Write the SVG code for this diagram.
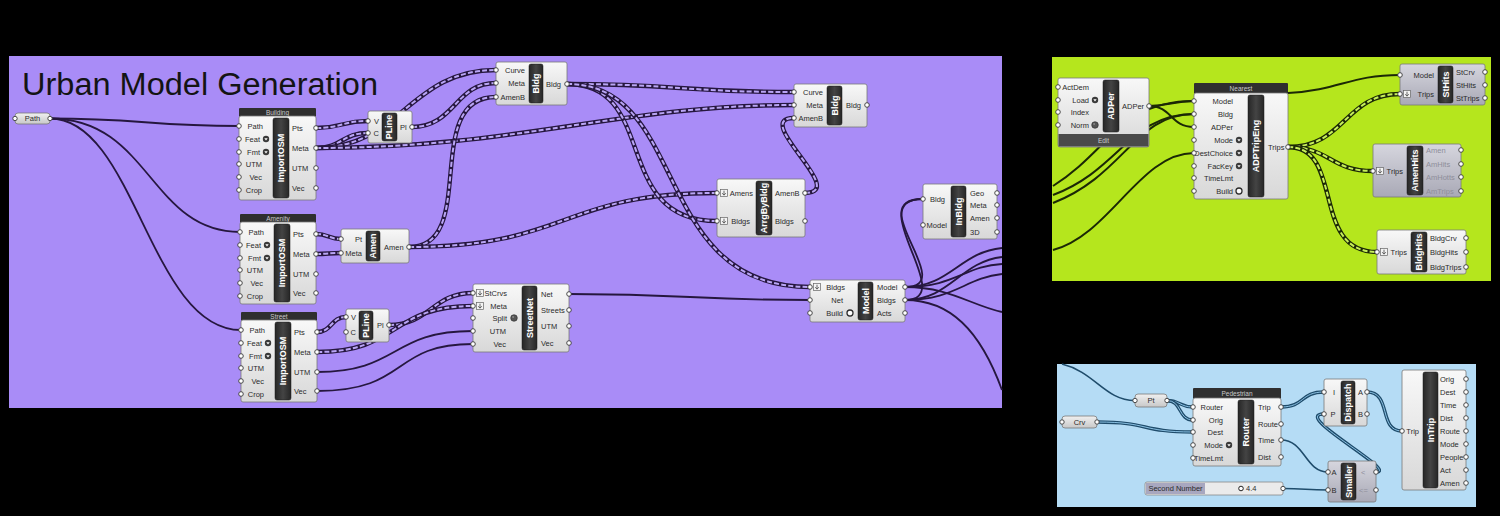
<svg xmlns="http://www.w3.org/2000/svg" width="1500" height="516" viewBox="0 0 1500 516">
<defs>
<style>
.l{font-family:'Liberation Sans',Arial,sans-serif;font-size:7.5px;fill:#2b2b2b}
.le{text-anchor:end}
.lm{text-anchor:middle}
.lf{fill:#8e8e9a}
.s{font-family:'Liberation Sans',Arial,sans-serif;font-size:9px;font-weight:bold;fill:#fff;text-anchor:middle}
.h{font-family:'Liberation Sans',Arial,sans-serif;font-size:6.5px;fill:#c9c9c9;text-anchor:middle}
.b{fill:url(#gB);stroke:#7a7a7a;stroke-width:0.8}
.bg{fill:url(#gG);stroke:#7a7a7a;stroke-width:0.8}
.pill{fill:url(#gP);stroke:#7a7a7a;stroke-width:0.8}
.k{fill:url(#gK);stroke:#1a1a1a;stroke-width:0.5}
.hd{fill:#2f2f2f}
.p{fill:#fff;stroke:#3a3a3a;stroke-width:0.9}
.w{fill:none;stroke:#26173f;stroke-width:1.8}
.do{fill:none;stroke:#26173f;stroke-width:4.4}
.di{fill:none;stroke:#b9a5f5;stroke-width:2;stroke-dasharray:5 2.2}
.gw{fill:none;stroke:#1b2806;stroke-width:2}
.gdo{fill:none;stroke:#1b2806;stroke-width:4.4}
.gdi{fill:none;stroke:#c6ee5a;stroke-width:2;stroke-dasharray:5 2.2}
.bo{fill:none;stroke:#1f4c6b;stroke-width:3.4}
.bi{fill:none;stroke:#8cc2e4;stroke-width:1}
.bs{fill:none;stroke:#1f4c6b;stroke-width:1.6}
</style>
<linearGradient id="gB" x1="0" y1="0" x2="0" y2="1"><stop offset="0" stop-color="#f8f8f8"/><stop offset="1" stop-color="#d8d8d8"/></linearGradient>
<linearGradient id="gG" x1="0" y1="0" x2="0" y2="1"><stop offset="0" stop-color="#d6d6de"/><stop offset="1" stop-color="#a9a9b6"/></linearGradient>
<linearGradient id="gP" x1="0" y1="0" x2="0" y2="1"><stop offset="0" stop-color="#f0f0f0"/><stop offset="1" stop-color="#c8c8c8"/></linearGradient>
<linearGradient id="gK" x1="0" y1="0" x2="1" y2="0"><stop offset="0" stop-color="#262626"/><stop offset="0.5" stop-color="#444"/><stop offset="1" stop-color="#262626"/></linearGradient>
<g id="opt"><circle r="3.2" fill="#3a3a3a"/><path d="M-1.7,-0.8 L1.7,-0.8 L0,1.5 Z" fill="#fff"/></g>
<g id="ball"><circle r="3.3" fill="#555" stroke="#2a2a2a" stroke-width="0.6"/><circle cx="-0.9" cy="-0.9" r="1" fill="#888"/></g>
<g id="ring"><circle r="3" fill="#fff" stroke="#2a2a2a" stroke-width="1.3"/></g>
<g id="dn"><rect x="-3.5" y="-3.5" width="7" height="7" fill="#f4f4f4" stroke="#666" stroke-width="0.7"/><path d="M0,-2.3 V2 M-1.8,0.2 L0,2.2 L1.8,0.2" stroke="#444" stroke-width="0.8" fill="none"/></g>
</defs>

<rect x="0" y="0" width="1500" height="516" fill="#000"/>

<g id="panels">
<rect x="9" y="56" width="993" height="352" fill="#a98cf7"/>
<rect x="1052" y="57" width="439" height="224" fill="#b5e61d"/>
<rect x="1057" y="364" width="419" height="143" fill="#b5dcf5"/>
<text x="22" y="95" font-family="'Liberation Sans',Arial,sans-serif" font-size="31" fill="#141414" textLength="356" lengthAdjust="spacingAndGlyphs">Urban Model Generation</text>
</g>

<g id="connectors">
<!-- purple solid -->
<path class="w" d="M50,118.5 C140,118.5 150,126 239,126"/>
<path class="w" d="M50,118.5 C150,118.5 150,232 240,232"/>
<path class="w" d="M50,118.5 C135,118.5 150,330 241,330"/>
<path class="w" d="M317,372 C400,372 390,331 473,331"/>
<path class="w" d="M317,391 C410,391 390,344 473,344"/>
<path class="w" d="M569,294 C690,294 690,300 810,300"/>
<path class="w" d="M905,287 C960,287 860,199 923,199"/>
<path class="w" d="M905,300 C960,300 860,199 923,199"/>
<path class="w" d="M905,287 C950,287 960,252 1002,248"/>
<path class="w" d="M905,287 C955,287 965,266 1002,264"/>
<path class="w" d="M905,300 C950,300 960,262 1002,257"/>
<path class="w" d="M905,300 C955,300 965,278 1002,274"/>
<path class="w" d="M905,287 C950,287 970,305 1002,312"/>
<path class="w" d="M905,300 C950,300 980,330 1002,390"/>
<!-- purple dashed (multi data) -->
<path class="do" d="M316,128 C342,128 342,121 368,121"/><path class="di" d="M316,128 C342,128 342,121 368,121"/>
<path class="do" d="M316,148 C342,148 342,133 368,133"/><path class="di" d="M316,148 C342,148 342,133 368,133"/>
<path class="do" d="M316,148 C400,148 410,70 496,70"/><path class="di" d="M316,148 C400,148 410,70 496,70"/>
<path class="do" d="M412,127 C455,127 455,83 496,83"/><path class="di" d="M412,127 C455,127 455,83 496,83"/>
<path class="do" d="M316,148 C520,148 620,105 794,105"/><path class="di" d="M316,148 C520,148 620,105 794,105"/>
<path class="do" d="M409,247 C480,247 420,97 496,97"/><path class="di" d="M409,247 C480,247 420,97 496,97"/>
<path class="do" d="M409,247 C570,247 560,193 717,193"/><path class="di" d="M409,247 C570,247 560,193 717,193"/>
<path class="do" d="M316,234 C328,234 329,239 341,239"/><path class="di" d="M316,234 C328,234 329,239 341,239"/>
<path class="do" d="M316,254 C328,254 329,253 341,253"/><path class="di" d="M316,254 C328,254 329,253 341,253"/>
<path class="do" d="M567,84 C680,84 680,92 794,92"/><path class="di" d="M567,84 C680,84 680,92 794,92"/>
<path class="do" d="M567,84 C660,84 610,221 717,221"/><path class="di" d="M567,84 C660,84 610,221 717,221"/>
<path class="do" d="M567,84 C690,84 650,287 810,287"/><path class="di" d="M567,84 C690,84 650,287 810,287"/>
<path class="do" d="M805,193 C850,193 750,118 794,118"/><path class="di" d="M805,193 C850,193 750,118 794,118"/>
<path class="do" d="M317,332 C332,332 331,317 346,317"/><path class="di" d="M317,332 C332,332 331,317 346,317"/>
<path class="do" d="M389,325 C430,325 432,293 473,293"/><path class="di" d="M389,325 C430,325 432,293 473,293"/>
<path class="do" d="M317,352 C400,352 390,306 473,306"/><path class="di" d="M317,352 C400,352 390,306 473,306"/>
<!-- green -->
<path class="gw" d="M1053,186 C1110,150 1120,101 1194,101"/>
<path class="gw" d="M1053,195 C1120,170 1130,114 1194,114"/>
<path class="gw" d="M1053,203 C1125,175 1135,114 1194,114"/>
<path class="gw" d="M1053,250 C1110,235 1140,153 1194,153"/>
<path class="gw" d="M1149,106 C1170,106 1172,101 1194,101"/>
<path class="gw" d="M1149,106 C1172,106 1170,127 1194,127"/>
<path class="gw" d="M1288,93 C1340,90 1350,75 1400,75"/>
<path class="gdo" d="M1288,147 C1345,147 1345,94 1400,94"/><path class="gdi" d="M1288,147 C1345,147 1345,94 1400,94"/>
<path class="gdo" d="M1288,147 C1330,147 1330,171 1373,171"/><path class="gdi" d="M1288,147 C1330,147 1330,171 1373,171"/>
<path class="gdo" d="M1288,147 C1345,147 1310,252 1377,252"/><path class="gdi" d="M1288,147 C1345,147 1310,252 1377,252"/>
<!-- blue -->
<path class="bs" d="M1062,364 C1095,372 1105,400.5 1135,400.5"/>
<path class="bo" d="M1167,400.5 C1180,400.5 1180,407 1193,407"/><path class="bi" d="M1167,400.5 C1180,400.5 1180,407 1193,407"/>
<path class="bo" d="M1167,400.5 C1182,400.5 1178,420 1193,420"/><path class="bi" d="M1167,400.5 C1182,400.5 1178,420 1193,420"/>
<path class="bo" d="M1097,422 C1150,422 1140,432 1193,432"/><path class="bi" d="M1097,422 C1150,422 1140,432 1193,432"/>
<path class="bo" d="M1281,407 C1305,407 1300,392 1324,392"/><path class="bi" d="M1281,407 C1305,407 1300,392 1324,392"/>
<path class="bs" d="M1281,440 C1305,440 1305,472 1328,472"/>
<path class="bs" d="M1283,488.5 C1305,488.5 1306,490 1328,490"/>
<path class="bo" d="M1376,472 C1400,472 1290,414 1324,414"/><path class="bi" d="M1376,472 C1400,472 1290,414 1324,414"/>
<path class="bo" d="M1367,392 C1392,392 1378,431 1402,431"/><path class="bi" d="M1367,392 C1392,392 1378,431 1402,431"/>
</g>

<g id="param-path">
<rect class="pill" x="15" y="113" width="35" height="11" rx="3"/>
<text class="l lm" x="32.5" y="121">Path</text>
<circle class="p" cx="15" cy="118.5" r="2.2"/><circle class="p" cx="50" cy="118.5" r="2.2"/>
</g>

<g id="importosm-building">
<rect class="hd" x="239" y="108" width="77" height="9" rx="1"/>
<text class="h" x="277.5" y="114.8">Building</text>
<rect class="b" x="239" y="116" width="77" height="84" rx="2"/>
<rect class="k" x="273" y="118" width="16" height="80" rx="2"/>
<text class="s" transform="translate(281,158) rotate(-90)" dy="3.2">ImportOSM</text>
<text class="l le" x="263" y="128.6">Path</text>
<text class="l le" x="260" y="141.6">Feat</text><use href="#opt" x="266" y="139"/>
<text class="l le" x="260" y="154.6">Fmt</text><use href="#opt" x="266" y="152"/>
<text class="l le" x="262" y="166.6">UTM</text>
<text class="l le" x="262" y="179.6">Vec</text>
<text class="l le" x="262" y="192.6">Crop</text>
<text class="l" x="292" y="130.6">Pts</text>
<text class="l" x="292" y="150.6">Meta</text>
<text class="l" x="292" y="170.6">UTM</text>
<text class="l" x="292" y="190.6">Vec</text>
<circle class="p" cx="239" cy="126" r="2.3"/><circle class="p" cx="239" cy="139" r="2.3"/><circle class="p" cx="239" cy="152" r="2.3"/><circle class="p" cx="239" cy="164" r="2.3"/><circle class="p" cx="239" cy="177" r="2.3"/><circle class="p" cx="239" cy="190" r="2.3"/>
<circle class="p" cx="316" cy="128" r="2.3"/><circle class="p" cx="316" cy="148" r="2.3"/><circle class="p" cx="316" cy="168" r="2.3"/><circle class="p" cx="316" cy="188" r="2.3"/>
</g>

<g id="importosm-amenity">
<rect class="hd" x="240" y="214" width="76" height="9" rx="1"/>
<text class="h" x="278" y="220.8">Amenity</text>
<rect class="b" x="240" y="222" width="76" height="82" rx="2"/>
<rect class="k" x="274" y="224" width="16" height="78" rx="2"/>
<text class="s" transform="translate(282,263) rotate(-90)" dy="3.2">ImportOSM</text>
<text class="l le" x="264" y="234.6">Path</text>
<text class="l le" x="261" y="247.6">Feat</text><use href="#opt" x="267" y="245"/>
<text class="l le" x="261" y="260.6">Fmt</text><use href="#opt" x="267" y="258"/>
<text class="l le" x="263" y="272.6">UTM</text>
<text class="l le" x="263" y="285.6">Vec</text>
<text class="l le" x="263" y="298.6">Crop</text>
<text class="l" x="293" y="236.6">Pts</text>
<text class="l" x="293" y="256.6">Meta</text>
<text class="l" x="293" y="276.6">UTM</text>
<text class="l" x="293" y="295.6">Vec</text>
<circle class="p" cx="240" cy="232" r="2.3"/><circle class="p" cx="240" cy="245" r="2.3"/><circle class="p" cx="240" cy="258" r="2.3"/><circle class="p" cx="240" cy="270" r="2.3"/><circle class="p" cx="240" cy="283" r="2.3"/><circle class="p" cx="240" cy="296" r="2.3"/>
<circle class="p" cx="316" cy="234" r="2.3"/><circle class="p" cx="316" cy="254" r="2.3"/><circle class="p" cx="316" cy="274" r="2.3"/><circle class="p" cx="316" cy="293" r="2.3"/>
</g>

<g id="importosm-street">
<rect class="hd" x="241" y="312" width="76" height="9" rx="1"/>
<text class="h" x="279" y="318.8">Street</text>
<rect class="b" x="241" y="320" width="76" height="82" rx="2"/>
<rect class="k" x="275" y="322" width="16" height="78" rx="2"/>
<text class="s" transform="translate(283,361) rotate(-90)" dy="3.2">ImportOSM</text>
<text class="l le" x="265" y="332.6">Path</text>
<text class="l le" x="262" y="345.6">Feat</text><use href="#opt" x="268" y="343"/>
<text class="l le" x="262" y="358.6">Fmt</text><use href="#opt" x="268" y="356"/>
<text class="l le" x="264" y="370.6">UTM</text>
<text class="l le" x="264" y="383.6">Vec</text>
<text class="l le" x="264" y="396.6">Crop</text>
<text class="l" x="294" y="334.6">Pts</text>
<text class="l" x="294" y="354.6">Meta</text>
<text class="l" x="294" y="374.6">UTM</text>
<text class="l" x="294" y="393.6">Vec</text>
<circle class="p" cx="241" cy="330" r="2.3"/><circle class="p" cx="241" cy="343" r="2.3"/><circle class="p" cx="241" cy="356" r="2.3"/><circle class="p" cx="241" cy="368" r="2.3"/><circle class="p" cx="241" cy="381" r="2.3"/><circle class="p" cx="241" cy="394" r="2.3"/>
<circle class="p" cx="317" cy="332" r="2.3"/><circle class="p" cx="317" cy="352" r="2.3"/><circle class="p" cx="317" cy="372" r="2.3"/><circle class="p" cx="317" cy="391" r="2.3"/>
</g>

<g id="pline-building">
<rect class="b" x="368" y="111" width="44" height="32" rx="2"/>
<rect class="k" x="382" y="113" width="15" height="28" rx="2"/>
<text class="s" font-size="8" transform="translate(389.5,127) rotate(-90)" dy="2.9">PLine</text>
<text class="l le" x="379" y="123.6">V</text>
<text class="l le" x="379" y="135.6">C</text>
<text class="l" x="400" y="129.6">Pl</text>
<circle class="p" cx="368" cy="121" r="2.3"/><circle class="p" cx="368" cy="133" r="2.3"/><circle class="p" cx="412" cy="127" r="2.3"/>
</g>

<g id="pline-street">
<rect class="b" x="346" y="309" width="43" height="33" rx="2"/>
<rect class="k" x="359" y="311" width="14" height="29" rx="2"/>
<text class="s" font-size="8" transform="translate(366,325.5) rotate(-90)" dy="2.9">PLine</text>
<text class="l le" x="356" y="319.6">V</text>
<text class="l le" x="356" y="334.6">C</text>
<text class="l" x="377" y="327.6">Pl</text>
<circle class="p" cx="346" cy="317" r="2.3"/><circle class="p" cx="346" cy="332" r="2.3"/><circle class="p" cx="389" cy="325" r="2.3"/>
</g>

<g id="bldg-1">
<rect class="b" x="496" y="62" width="71" height="43" rx="2"/>
<rect class="k" x="529" y="64" width="14" height="39" rx="2"/>
<text class="s" transform="translate(536,83.5) rotate(-90)" dy="3.2">Bldg</text>
<text class="l le" x="525" y="72.6">Curve</text>
<text class="l le" x="525" y="85.6">Meta</text>
<text class="l le" x="525" y="99.6">AmenB</text>
<text class="l" x="546" y="86.6">Bldg</text>
<circle class="p" cx="496" cy="70" r="2.3"/><circle class="p" cx="496" cy="83" r="2.3"/><circle class="p" cx="496" cy="97" r="2.3"/><circle class="p" cx="567" cy="84" r="2.3"/>
</g>

<g id="bldg-2">
<rect class="b" x="794" y="84" width="73" height="43" rx="2"/>
<rect class="k" x="827" y="86" width="15" height="39" rx="2"/>
<text class="s" transform="translate(834.5,105.5) rotate(-90)" dy="3.2">Bldg</text>
<text class="l le" x="823" y="94.6">Curve</text>
<text class="l le" x="823" y="107.6">Meta</text>
<text class="l le" x="823" y="120.6">AmenB</text>
<text class="l" x="846" y="107.6">Bldg</text>
<circle class="p" cx="794" cy="92" r="2.3"/><circle class="p" cx="794" cy="105" r="2.3"/><circle class="p" cx="794" cy="118" r="2.3"/><circle class="p" cx="867" cy="105" r="2.3"/>
</g>

<g id="amen">
<rect class="b" x="341" y="229" width="68" height="34" rx="2"/>
<rect class="k" x="366" y="231" width="14" height="30" rx="2"/>
<text class="s" font-size="8" transform="translate(373,246) rotate(-90)" dy="2.9">Amen</text>
<text class="l le" x="362" y="241.6">Pt</text>
<text class="l le" x="362" y="255.6">Meta</text>
<text class="l" x="384" y="249.6">Amen</text>
<circle class="p" cx="341" cy="239" r="2.3"/><circle class="p" cx="341" cy="253" r="2.3"/><circle class="p" cx="409" cy="247" r="2.3"/>
</g>

<g id="arrgbybldg">
<rect class="b" x="717" y="179" width="88" height="58" rx="2"/>
<rect class="k" x="756" y="181" width="16" height="54" rx="2"/>
<text class="s" transform="translate(764,208) rotate(-90)" dy="3.2">ArrgByBldg</text>
<use href="#dn" x="724" y="193"/><use href="#dn" x="724" y="221"/>
<text class="l le" x="753" y="195.6">Amens</text>
<text class="l le" x="750" y="223.6">Bldgs</text>
<text class="l" x="775" y="195.6">AmenB</text>
<text class="l" x="775" y="223.6">Bldgs</text>
<circle class="p" cx="717" cy="193" r="2.3"/><circle class="p" cx="717" cy="221" r="2.3"/><circle class="p" cx="805" cy="193" r="2.3"/><circle class="p" cx="805" cy="221" r="2.3"/>
</g>

<g id="streetnet">
<rect class="b" x="473" y="284" width="96" height="68" rx="2"/>
<rect class="k" x="522" y="286" width="15" height="64" rx="2"/>
<text class="s" transform="translate(529.5,318) rotate(-90)" dy="3.2">StreetNet</text>
<use href="#dn" x="480" y="293"/><use href="#dn" x="480" y="306"/>
<text class="l le" x="507" y="295.6">StCrvs</text>
<text class="l le" x="507" y="308.6">Meta</text>
<text class="l le" x="507" y="320.6">Split</text><use href="#ball" x="514" y="318"/>
<text class="l le" x="506" y="333.6">UTM</text>
<text class="l le" x="506" y="346.6">Vec</text>
<text class="l" x="541" y="296.6">Net</text>
<text class="l" x="541" y="312.6">Streets</text>
<text class="l" x="541" y="328.6">UTM</text>
<text class="l" x="541" y="345.6">Vec</text>
<circle class="p" cx="473" cy="293" r="2.3"/><circle class="p" cx="473" cy="306" r="2.3"/><circle class="p" cx="473" cy="318" r="2.3"/><circle class="p" cx="473" cy="331" r="2.3"/><circle class="p" cx="473" cy="344" r="2.3"/>
<circle class="p" cx="569" cy="294" r="2.3"/><circle class="p" cx="569" cy="310" r="2.3"/><circle class="p" cx="569" cy="326" r="2.3"/><circle class="p" cx="569" cy="343" r="2.3"/>
</g>

<g id="model">
<rect class="b" x="810" y="280" width="95" height="42" rx="2"/>
<rect class="k" x="858" y="282" width="15" height="38" rx="2"/>
<text class="s" transform="translate(865.5,301) rotate(-90)" dy="3.2">Model</text>
<use href="#dn" x="817" y="287"/>
<text class="l le" x="845" y="289.6">Bldgs</text>
<text class="l le" x="843" y="302.6">Net</text>
<text class="l le" x="843" y="315.6">Build</text><use href="#ring" x="850" y="313"/>
<text class="l" x="877" y="289.6">Model</text>
<text class="l" x="877" y="302.6">Bldgs</text>
<text class="l" x="877" y="315.6">Acts</text>
<circle class="p" cx="810" cy="287" r="2.3"/><circle class="p" cx="810" cy="300" r="2.3"/><circle class="p" cx="810" cy="313" r="2.3"/>
<circle class="p" cx="905" cy="287" r="2.3"/><circle class="p" cx="905" cy="300" r="2.3"/><circle class="p" cx="905" cy="313" r="2.3"/>
</g>

<g id="inbldg">
<rect class="b" x="923" y="184" width="74" height="55" rx="2"/>
<rect class="k" x="951" y="186" width="15" height="51" rx="2"/>
<text class="s" transform="translate(958.5,211.5) rotate(-90)" dy="3.2">InBldg</text>
<text class="l le" x="945" y="201.6">Bldg</text>
<text class="l le" x="947" y="227.6">Model</text>
<text class="l" x="970" y="195.6">Geo</text>
<text class="l" x="970" y="207.6">Meta</text>
<text class="l" x="970" y="220.6">Amen</text>
<text class="l" x="970" y="234.6">3D</text>
<circle class="p" cx="923" cy="199" r="2.3"/><circle class="p" cx="923" cy="225" r="2.3"/>
<circle class="p" cx="997" cy="193" r="2.3"/><circle class="p" cx="997" cy="205" r="2.3"/><circle class="p" cx="997" cy="218" r="2.3"/><circle class="p" cx="997" cy="232" r="2.3"/>
</g>

<g id="adper">
<rect class="b" x="1058" y="78" width="91" height="69" rx="2"/>
<rect x="1058.5" y="134" width="90" height="12.5" fill="#4a4a4a"/>
<text class="h" font-size="7" x="1103.5" y="143">Edit</text>
<rect class="k" x="1103" y="80" width="16" height="52" rx="2"/>
<text class="s" transform="translate(1111,106) rotate(-90)" dy="3.2">ADPer</text>
<text class="l le" x="1089" y="89.6">ActDem</text>
<text class="l le" x="1089" y="102.6">Load</text><use href="#opt" x="1095" y="100"/>
<text class="l le" x="1089" y="114.6">Index</text>
<text class="l le" x="1089" y="127.6">Norm</text><use href="#ball" x="1095" y="125"/>
<text class="l" x="1122" y="108.6">ADPer</text>
<circle class="p" cx="1058" cy="87" r="2.3"/><circle class="p" cx="1058" cy="100" r="2.3"/><circle class="p" cx="1058" cy="112" r="2.3"/><circle class="p" cx="1058" cy="125" r="2.3"/>
<circle class="p" cx="1149" cy="106" r="2.3"/>
</g>

<g id="adptripeng">
<rect class="hd" x="1194" y="83" width="94" height="11" rx="1"/>
<text class="h" x="1241" y="90.5">Nearest</text>
<rect class="b" x="1194" y="93" width="94" height="106" rx="2"/>
<rect class="k" x="1248" y="95" width="16" height="102" rx="2"/>
<text class="s" transform="translate(1256,146) rotate(-90)" dy="3.2">ADPTripEng</text>
<text class="l le" x="1233" y="103.6">Model</text>
<text class="l le" x="1233" y="116.6">Bldg</text>
<text class="l le" x="1233" y="129.6">ADPer</text>
<text class="l le" x="1233" y="142.6">Mode</text><use href="#opt" x="1239" y="140"/>
<text class="l le" x="1233" y="155.6">DestChoice</text><use href="#opt" x="1239" y="153"/>
<text class="l le" x="1233" y="168.6">FacKey</text><use href="#opt" x="1239" y="166"/>
<text class="l le" x="1233" y="180.6">TimeLmt</text>
<text class="l le" x="1233" y="193.6">Build</text><use href="#ring" x="1239" y="191"/>
<text class="l" x="1268" y="149.6">Trips</text>
<circle class="p" cx="1194" cy="101" r="2.3"/><circle class="p" cx="1194" cy="114" r="2.3"/><circle class="p" cx="1194" cy="127" r="2.3"/><circle class="p" cx="1194" cy="140" r="2.3"/><circle class="p" cx="1194" cy="153" r="2.3"/><circle class="p" cx="1194" cy="166" r="2.3"/><circle class="p" cx="1194" cy="178" r="2.3"/><circle class="p" cx="1194" cy="191" r="2.3"/>
<circle class="p" cx="1288" cy="147" r="2.3"/>
</g>

<g id="sthits">
<rect class="bg" x="1400" y="64" width="85" height="41" rx="2"/>
<rect class="k" x="1438" y="66" width="15" height="37" rx="2"/>
<text class="s" transform="translate(1445.5,84.5) rotate(-90)" dy="3.2">StHits</text>
<text class="l le" x="1434" y="77.6">Model</text>
<use href="#dn" x="1407" y="94"/>
<text class="l le" x="1434" y="96.6">Trips</text>
<text class="l" font-size="7" x="1456" y="74.6">StCrv</text>
<text class="l" font-size="7" x="1456" y="87.6">StHits</text>
<text class="l" font-size="7" x="1456" y="100.6">StTrips</text>
<circle class="p" cx="1400" cy="75" r="2.3"/><circle class="p" cx="1400" cy="94" r="2.3"/>
<circle class="p" cx="1485" cy="72" r="2.3"/><circle class="p" cx="1485" cy="85" r="2.3"/><circle class="p" cx="1485" cy="98" r="2.3"/>
</g>

<g id="amenhits">
<rect class="bg" x="1373" y="144" width="88" height="53" rx="2"/>
<rect class="k" x="1407" y="146" width="16" height="49" rx="2"/>
<text class="s" transform="translate(1415,170.5) rotate(-90)" dy="3.2">AmenHits</text>
<use href="#dn" x="1380" y="171"/>
<text class="l le" x="1403" y="173.6">Trips</text>
<text class="l lf" x="1426" y="152.6">Amen</text>
<text class="l lf" x="1426" y="166.6">AmHits</text>
<text class="l lf" x="1426" y="179.6">AmHotts</text>
<text class="l lf" x="1426" y="193.6">AmTrips</text>
<circle class="p" cx="1373" cy="171" r="2.3"/>
<circle class="p" cx="1461" cy="150" r="2.3"/><circle class="p" cx="1461" cy="164" r="2.3"/><circle class="p" cx="1461" cy="177" r="2.3"/><circle class="p" cx="1461" cy="191" r="2.3"/>
</g>

<g id="bldghits">
<rect class="b" x="1377" y="230" width="89" height="44" rx="2"/>
<rect class="k" x="1411" y="232" width="16" height="40" rx="2"/>
<text class="s" font-size="8.5" transform="translate(1419,252) rotate(-90)" dy="3">BldgHits</text>
<use href="#dn" x="1384" y="252"/>
<text class="l le" x="1407" y="254.6">Trips</text>
<text class="l" x="1430" y="240.6">BldgCrv</text>
<text class="l" x="1430" y="254.6">BldgHits</text>
<text class="l" x="1430" y="269.6">BldgTrips</text>
<circle class="p" cx="1377" cy="252" r="2.3"/>
<circle class="p" cx="1466" cy="238" r="2.3"/><circle class="p" cx="1466" cy="252" r="2.3"/><circle class="p" cx="1466" cy="267" r="2.3"/>
</g>

<g id="param-pt">
<rect class="pill" x="1135" y="394" width="32" height="13" rx="3"/>
<text class="l lm" x="1151" y="403">Pt</text>
<circle class="p" cx="1135" cy="400.5" r="2.2"/><circle class="p" cx="1167" cy="400.5" r="2.2"/>
</g>

<g id="param-crv">
<rect class="pill" x="1062" y="416" width="35" height="12" rx="3"/>
<text class="l lm" x="1079.5" y="424.6">Crv</text>
<circle class="p" cx="1062" cy="422" r="2.2"/><circle class="p" cx="1097" cy="422" r="2.2"/>
</g>

<g id="router">
<rect class="hd" x="1193" y="388" width="88" height="11" rx="1"/>
<text class="h" x="1237" y="395.5">Pedestrian</text>
<rect class="b" x="1193" y="398" width="88" height="68" rx="2"/>
<rect class="k" x="1238" y="400" width="16" height="64" rx="2"/>
<text class="s" transform="translate(1246,432) rotate(-90)" dy="3.2">Router</text>
<text class="l le" x="1223" y="409.6">Router</text>
<text class="l le" x="1223" y="422.6">Orig</text>
<text class="l le" x="1223" y="434.6">Dest</text>
<text class="l le" x="1223" y="447.6">Mode</text><use href="#opt" x="1229" y="445"/>
<text class="l le" x="1223" y="460.6">TimeLmt</text>
<text class="l" x="1258" y="409.6">Trip</text>
<text class="l" x="1258" y="426.6">Route</text>
<text class="l" x="1258" y="442.6">Time</text>
<text class="l" x="1258" y="459.6">Dist</text>
<circle class="p" cx="1193" cy="407" r="2.3"/><circle class="p" cx="1193" cy="420" r="2.3"/><circle class="p" cx="1193" cy="432" r="2.3"/><circle class="p" cx="1193" cy="445" r="2.3"/><circle class="p" cx="1193" cy="458" r="2.3"/>
<circle class="p" cx="1281" cy="407" r="2.3"/><circle class="p" cx="1281" cy="424" r="2.3"/><circle class="p" cx="1281" cy="440" r="2.3"/><circle class="p" cx="1281" cy="457" r="2.3"/>
</g>

<g id="dispatch">
<rect class="b" x="1324" y="379" width="43" height="47" rx="2"/>
<rect class="k" x="1341" y="381" width="14" height="43" rx="2"/>
<text class="s" font-size="8.5" transform="translate(1348,402.5) rotate(-90)" dy="3">Dispatch</text>
<text class="l lm" x="1334" y="394.6">I</text>
<text class="l lm" x="1333" y="416.6">P</text>
<text class="l" x="1358" y="394.6">A</text>
<text class="l" x="1358" y="416.6">B</text>
<circle class="p" cx="1324" cy="392" r="2.3"/><circle class="p" cx="1324" cy="414" r="2.3"/><circle class="p" cx="1367" cy="392" r="2.3"/><circle class="p" cx="1367" cy="414" r="2.3"/>
</g>

<g id="smaller">
<rect class="bg" x="1328" y="461" width="48" height="41" rx="2"/>
<rect class="k" x="1341" y="463" width="15" height="37" rx="2"/>
<text class="s" font-size="8.5" transform="translate(1348.5,481.5) rotate(-90)" dy="3">Smaller</text>
<text class="l lm" x="1334" y="474.6">A</text>
<text class="l lm" x="1334" y="492.6">B</text>
<text class="l lf" x="1361" y="474.6">&lt;</text>
<text class="l lf" x="1359" y="492.6">&lt;=</text>
<circle class="p" cx="1328" cy="472" r="2.3"/><circle class="p" cx="1328" cy="490" r="2.3"/><circle class="p" cx="1376" cy="472" r="2.3"/><circle class="p" cx="1376" cy="490" r="2.3"/>
</g>

<g id="slider-second-number">
<rect x="1145" y="482" width="138" height="13" rx="2" fill="#ebebeb" stroke="#888" stroke-width="0.8"/>
<rect x="1146" y="483" width="59" height="11" fill="#a8a7bf"/>
<text class="l lm" font-size="7" x="1175.5" y="491">Second Number</text>
<circle cx="1241" cy="488.5" r="2.3" fill="#fff" stroke="#222" stroke-width="1"/>
<text class="l" font-size="7" x="1246" y="491">4.4</text>
<circle class="p" cx="1283" cy="488.5" r="2.2"/>
</g>

<g id="intrip">
<rect class="b" x="1402" y="370" width="64" height="120" rx="2"/>
<rect class="k" x="1423" y="372" width="15" height="116" rx="2"/>
<text class="s" transform="translate(1430.5,430) rotate(-90)" dy="3.2">InTrip</text>
<text class="l le" x="1419" y="433.6">Trip</text>
<text class="l" x="1440" y="381.6">Orig</text>
<text class="l" x="1440" y="394.6">Dest</text>
<text class="l" x="1440" y="407.6">Time</text>
<text class="l" x="1440" y="420.6">Dist</text>
<text class="l" x="1440" y="433.6">Route</text>
<text class="l" x="1440" y="446.6">Mode</text>
<text class="l" x="1440" y="459.6">People</text>
<text class="l" x="1440" y="472.6">Act</text>
<text class="l" x="1440" y="485.6">Amen</text>
<circle class="p" cx="1402" cy="431" r="2.3"/>
<circle class="p" cx="1466" cy="379" r="2.3"/><circle class="p" cx="1466" cy="392" r="2.3"/><circle class="p" cx="1466" cy="405" r="2.3"/><circle class="p" cx="1466" cy="418" r="2.3"/><circle class="p" cx="1466" cy="431" r="2.3"/><circle class="p" cx="1466" cy="444" r="2.3"/><circle class="p" cx="1466" cy="457" r="2.3"/><circle class="p" cx="1466" cy="470" r="2.3"/><circle class="p" cx="1466" cy="483" r="2.3"/>
</g>
</svg>
